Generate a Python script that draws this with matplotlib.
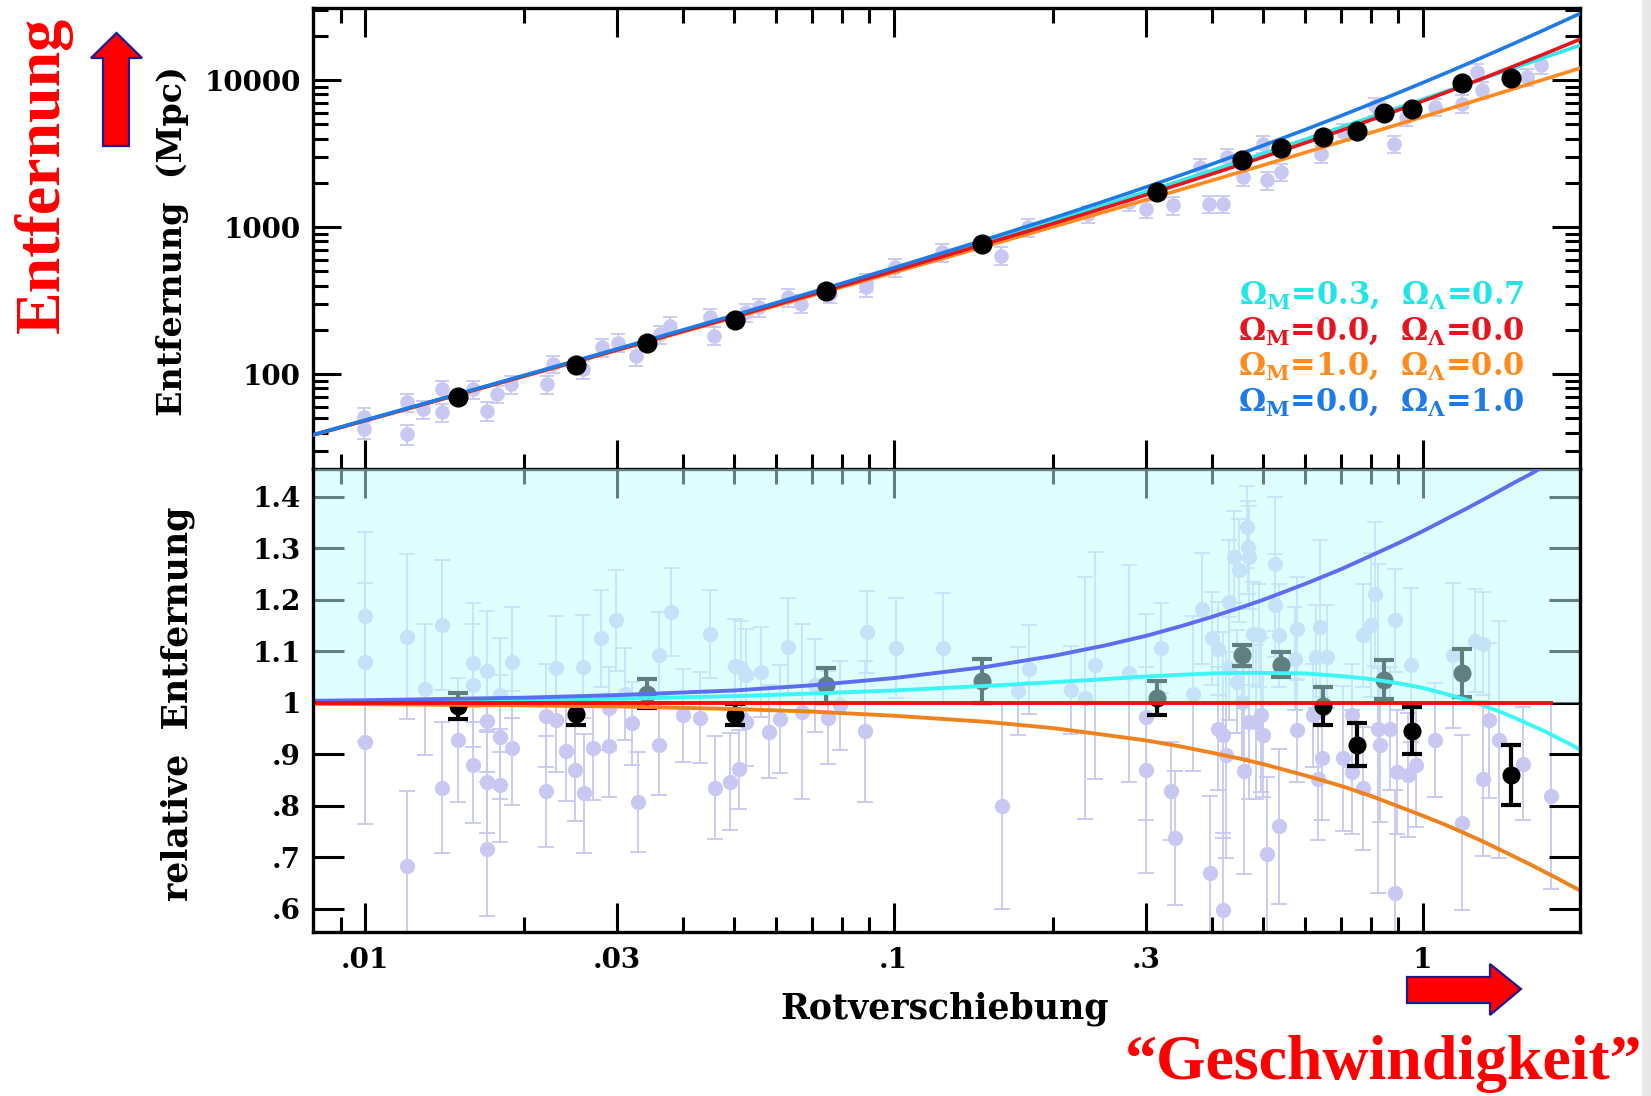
# Hubble diagram of type Ia supernovae: distance and relative distance vs. redshift

import matplotlib
matplotlib.use("Agg")
import matplotlib.pyplot as plt
import matplotlib.patches as mpatches
from matplotlib.ticker import FixedLocator, FixedFormatter, NullFormatter

FIG_W, FIG_H, DPI = 1651, 1096, 100

LAVENDER = "#c8c8f2"
TEXT_RED = "#ff0000"
ARROW_EDGE = "#1c1c8e"

# ── Model curves ──────────────────────────────────────────────────────────────

MODEL_Z = [0.008, 0.01, 0.02, 0.03, 0.05, 0.07, 0.1, 0.15, 0.2, 0.25, 0.3,
           0.35, 0.4, 0.45, 0.5, 0.6, 0.7, 0.8, 0.9, 1.0, 1.1, 1.2, 1.3,
           1.4, 1.5, 1.6, 1.7, 1.8, 1.9, 2.0]

# distance in Mpc
DIST_LCDM = [38.6, 48.4, 97.4, 147.4, 249, 354, 516, 800, 1098, 1412, 1740,
             2082, 2435, 2799, 3174, 3957, 4772, 5623, 6502, 7409, 8331,
             9281, 10245, 11230, 12222, 13235, 14266, 15300, 16361, 17414]
DIST_EMPTY = [38.6, 48.2, 97.0, 146.2, 246, 348, 504, 774, 1056, 1350, 1656,
              1974, 2304, 2646, 3000, 3744, 4536, 5376, 6264, 7200, 8184,
              9216, 10296, 11424, 12600, 13824, 15096, 16416, 17784, 19200]
DIST_EDS = [38.5, 48.1, 96.5, 145.1, 243, 342, 491, 745, 1004, 1267, 1534,
            1806, 2081, 2360, 2642, 3217, 3803, 4400, 5007, 5623, 6248, 6881,
            7521, 8168, 8821, 9480, 10146, 10817, 11492, 12173]
DIST_DS = [38.7, 48.5, 97.9, 148.3, 252, 360, 528, 828, 1152, 1500, 1872,
           2268, 2688, 3132, 3600, 4608, 5712, 6912, 8208, 9600, 11088,
           12672, 14352, 16128, 18000, 19968, 22032, 24192, 26448, 28800]

# distance relative to the empty universe
REL_LCDM = [1.002, 1.003, 1.005, 1.008, 1.013, 1.018, 1.024, 1.033, 1.040,
            1.046, 1.051, 1.0545, 1.057, 1.058, 1.058, 1.057, 1.052, 1.046,
            1.038, 1.029, 1.018, 1.007, 0.995, 0.983, 0.970, 0.957, 0.945,
            0.932, 0.920, 0.907]
REL_EDS = [0.998, 0.9975, 0.995, 0.993, 0.988, 0.983, 0.975, 0.963, 0.951,
           0.938, 0.927, 0.915, 0.903, 0.892, 0.881, 0.859, 0.839, 0.819,
           0.799, 0.781, 0.764, 0.747, 0.731, 0.715, 0.700, 0.686, 0.672,
           0.659, 0.646, 0.634]
REL_DS = [1.004, 1.005, 1.010, 1.015, 1.024, 1.034, 1.048, 1.070, 1.091,
          1.111, 1.130, 1.149, 1.167, 1.184, 1.200, 1.231, 1.259, 1.286,
          1.310, 1.333, 1.355, 1.375, 1.394, 1.412, 1.429, 1.444, 1.460,
          1.474, 1.487, 1.500]
REL_EMPTY_Z = [0.008, 1.75]
REL_EMPTY = [1.0, 1.0]

LEGEND_LINES = [
    (r"$\Omega_{M}$=0.3,  $\Omega_{\Lambda}$=0.7", "#22e6e6"),
    (r"$\Omega_{M}$=0.0,  $\Omega_{\Lambda}$=0.0", "#e6141e"),
    (r"$\Omega_{M}$=1.0,  $\Omega_{\Lambda}$=0.0", "#ff8a1e"),
    (r"$\Omega_{M}$=0.0,  $\Omega_{\Lambda}$=1.0", "#1e7ae6"),
]

# ── Binned supernovae ─────────────────────────────────────────────────────────

BIN_Z = [0.0150, 0.0251, 0.0341, 0.0502, 0.0745, 0.147, 0.315, 0.455, 0.539,
         0.647, 0.753, 0.847, 0.955, 1.19, 1.47]
BIN_DIST = [69.5, 116, 164, 233, 370, 767, 1726, 2885, 3467, 4085, 4520,
            5985, 6400, 9510, 10330]
BIN_REL = [0.994, 0.978, 1.018, 0.977, 1.034, 1.042, 1.010, 1.092, 1.074,
           0.994, 0.919, 1.045, 0.946, 1.058, 0.860]
BIN_ERR = [0.025, 0.021, 0.029, 0.021, 0.034, 0.043, 0.033, 0.020, 0.024,
           0.037, 0.041, 0.038, 0.046, 0.047, 0.058]

# ── Individual supernovae, upper panel ───────────────────────────────────────

UP_Z = [0.00996, 0.00996, 0.0120, 0.0120, 0.0129, 0.0140, 0.0140, 0.0160,
        0.0170, 0.0178, 0.0189, 0.0221, 0.0227, 0.0258, 0.0281, 0.0301,
        0.0326, 0.0362, 0.0377, 0.0449, 0.0457, 0.0525, 0.0556, 0.0631,
        0.0668, 0.0759, 0.0887, 0.0887, 0.1007, 0.1234,
        0.1598, 0.1795, 0.233, 0.278, 0.3006, 0.338, 0.395, 0.419, 0.380,
        0.4266, 0.457, 0.499, 0.508, 0.539, 0.643, 0.708, 0.812, 0.829,
        0.882, 0.930, 1.055, 1.186, 1.269, 1.294, 1.573, 1.676]
UP_DIST = [50.7, 42.2, 64.1, 39.1, 57.8, 54.9, 79.1, 79.0, 56.2, 73.1, 85.5,
           85.5, 117, 108, 152, 164, 133, 187, 214, 244, 183, 264, 285, 334,
           301, 352, 422, 390, 533, 676,
           641, 1000, 1233, 1479, 1333, 1406, 1445, 1445, 2565, 3000, 2193,
           3700, 2080, 2371, 3162, 4443, 6650, 6240, 3700, 5623, 6577, 6934,
           11400, 8546, 10540, 12650]
UP_ERR = [8, 6, 9, 6, 8, 8, 11, 11, 8, 10, 12, 12, 16, 15, 21, 23, 19, 26,
          30, 34, 26, 37, 40, 47, 42, 49, 59, 55, 75, 95,
          90, 140, 170, 200, 180, 190, 195, 195, 340, 400, 300, 500, 290,
          320, 430, 600, 900, 840, 500, 760, 900, 950, 1500, 1150, 1420, 1700]

# ── Individual supernovae, lower panel ───────────────────────────────────────

LOW_Z = [0.0100, 0.0100, 0.0100, 0.0120, 0.0120, 0.0130, 0.0140, 0.0140,
         0.0150, 0.0160, 0.0160, 0.0160, 0.0170, 0.0170, 0.0170, 0.0170,
         0.0180, 0.0180, 0.0180, 0.0190, 0.0190, 0.0220, 0.0220, 0.0230,
         0.0230, 0.0240, 0.0250, 0.0259, 0.0260, 0.0270, 0.0280, 0.0289,
         0.0289, 0.0299, 0.0310, 0.0320, 0.0329,
         0.0360, 0.0360, 0.0379, 0.0400, 0.0430, 0.0450, 0.0459, 0.0490,
         0.0501, 0.0510, 0.0515, 0.0525, 0.0525, 0.0560, 0.0580, 0.0610,
         0.0630, 0.0670, 0.0711, 0.0750, 0.0791, 0.0882, 0.0890, 0.1010,
         0.1240,
         0.160, 0.172, 0.180, 0.216, 0.230, 0.240, 0.278, 0.300, 0.300,
         0.320, 0.334, 0.340, 0.368, 0.382, 0.396, 0.400, 0.410, 0.410,
         0.420, 0.420, 0.425, 0.430, 0.430, 0.440, 0.445, 0.450, 0.455,
         0.460, 0.465, 0.467, 0.470, 0.470, 0.478, 0.485, 0.490, 0.495,
         0.500, 0.507, 0.526, 0.526, 0.535, 0.535,
         0.575, 0.578, 0.578, 0.620, 0.630, 0.635, 0.639, 0.645, 0.660,
         0.708, 0.734, 0.734, 0.772, 0.772, 0.800, 0.812, 0.824, 0.830,
         0.867, 0.886, 0.886, 0.895, 0.939, 0.952, 0.973, 1.054, 1.142,
         1.190, 1.255, 1.300, 1.300, 1.336, 1.395, 1.550, 1.752]
LOW_REL = [1.168, 1.079, 0.923, 1.128, 0.684, 1.026, 1.151, 0.835, 0.928,
           1.078, 1.034, 0.879, 1.061, 0.965, 0.847, 0.716, 0.934, 0.840,
           1.015, 1.079, 0.912, 0.975, 0.828, 1.068, 0.966, 0.907, 0.870,
           1.070, 0.824, 0.912, 1.125, 0.989, 0.917, 1.160, 1.017, 0.960,
           0.808,
           1.092, 0.918, 1.176, 0.976, 0.971, 1.134, 0.835, 0.847, 1.071,
           0.871, 1.068, 1.054, 0.962, 1.060, 0.944, 0.968, 1.109, 0.983,
           1.034, 0.971, 0.995, 0.945, 1.138, 1.107, 1.107,
           0.800, 1.023, 1.065, 1.025, 1.010, 1.073, 1.057, 0.973, 0.870,
           1.107, 0.828, 0.737, 1.018, 1.183, 0.669, 1.125, 1.105, 0.950,
           0.937, 0.598, 0.899, 1.196, 1.067, 1.283, 1.041, 1.257, 1.002,
           0.868, 1.341, 1.302, 1.283, 0.963, 1.134, 0.963, 1.131, 0.976,
           0.937, 0.706, 1.270, 1.189, 0.760, 1.131,
           1.086, 1.144, 0.947, 0.976, 1.089, 0.853, 1.147, 0.892, 1.089,
           0.892, 0.976, 0.866, 1.131, 0.834, 1.151, 1.212, 0.950, 0.918,
           0.950, 1.160, 0.630, 0.866, 0.860, 1.073, 0.879, 0.928, 1.092,
           0.767, 1.121, 1.115, 0.853, 0.966, 0.928, 0.882, 0.819]
LOW_ERR = [0.163, 0.153, 0.159, 0.160, 0.145, 0.128, 0.127, 0.127, 0.120,
           0.116, 0.120, 0.113, 0.118, 0.100, 0.100, 0.130, 0.120, 0.110,
           0.110, 0.108, 0.110, 0.100, 0.107, 0.100, 0.100, 0.097, 0.100,
           0.100, 0.116, 0.100, 0.095, 0.080, 0.100, 0.098, 0.090, 0.080,
           0.097,
           0.085, 0.097, 0.085, 0.090, 0.088, 0.086, 0.100, 0.094, 0.092,
           0.077, 0.090, 0.090, 0.085, 0.087, 0.090, 0.105, 0.094, 0.170,
           0.090, 0.090, 0.086, 0.137, 0.080, 0.097, 0.107,
           0.200, 0.085, 0.086, 0.085, 0.235, 0.220, 0.210, 0.200, 0.200,
           0.087, 0.095, 0.130, 0.150, 0.108, 0.150, 0.090, 0.090, 0.120,
           0.200, 0.150, 0.200, 0.120, 0.100, 0.090, 0.100, 0.100, 0.110,
           0.200, 0.080, 0.090, 0.100, 0.150, 0.100, 0.150, 0.100, 0.150,
           0.120, 0.150, 0.130, 0.100, 0.150, 0.100,
           0.100, 0.100, 0.100, 0.100, 0.100, 0.120, 0.170, 0.120, 0.100,
           0.140, 0.100, 0.120, 0.100, 0.120, 0.140, 0.140, 0.320, 0.150,
           0.120, 0.100, 0.200, 0.120, 0.120, 0.150, 0.120, 0.110, 0.140,
           0.170, 0.100, 0.100, 0.150, 0.150, 0.230, 0.110, 0.180]

# ── Axis ticks ────────────────────────────────────────────────────────────────

X_MAJOR = [0.01, 0.03, 0.1, 0.3, 1]
X_LABELS = [".01", ".03", ".1", ".3", "1"]
X_MINOR = [0.009, 0.02, 0.04, 0.05, 0.06, 0.07, 0.08, 0.09,
           0.2, 0.4, 0.5, 0.6, 0.7, 0.8, 0.9]
D_MAJOR = [100, 1000, 10000]
D_LABELS = ["100", "1000", "10000"]
D_MINOR = [30, 40, 50, 60, 70, 80, 90, 200, 300, 400, 500, 600, 700, 800,
           900, 2000, 3000, 4000, 5000, 6000, 7000, 8000, 9000, 20000, 30000]
R_MAJOR = [0.6, 0.7, 0.8, 0.9, 1.0, 1.1, 1.2, 1.3, 1.4]
R_LABELS = [".6", ".7", ".8", ".9", "1", "1.1", "1.2", "1.3", "1.4"]

XLIM = (0.00798, 1.985)


plt.rcParams["font.family"] = "DejaVu Serif"
plt.rcParams["font.weight"] = "bold"
plt.rcParams["mathtext.fontset"] = "custom"
plt.rcParams["mathtext.rm"] = "DejaVu Serif:bold"
plt.rcParams["mathtext.it"] = "DejaVu Serif:bold"
plt.rcParams["mathtext.bf"] = "DejaVu Serif:bold"


def _style_ticks(ax, y_major_len):
    ax.tick_params(which="both", direction="in", top=True, right=True,
                   width=2.2, labelsize=20, colors="black")
    ax.tick_params(axis="x", which="major", length=21, pad=11)
    ax.tick_params(axis="x", which="minor", length=11)
    ax.tick_params(axis="y", which="major", length=y_major_len, pad=9)
    ax.tick_params(axis="y", which="minor", length=11)
    for spine in ax.spines.values():
        spine.set_linewidth(2.4)


def _arrow(fig, pts_px):
    verts = [(x / DPI, (FIG_H - y) / DPI) for x, y in pts_px]
    poly = mpatches.Polygon(verts, closed=True, facecolor=TEXT_RED,
                            edgecolor=ARROW_EDGE, linewidth=1.6,
                            transform=fig.dpi_scale_trans)
    fig.add_artist(poly)


# ── Upper panel ───────────────────────────────────────────────────────────────

def draw_top(ax):
    ax.set_xscale("log")
    ax.set_yscale("log")
    ax.errorbar(UP_Z, UP_DIST, yerr=UP_ERR, fmt="o", ms=10.5, color=LAVENDER,
                mec="none", ecolor=LAVENDER, elinewidth=1.3, capsize=5,
                capthick=1.3, zorder=1.5)
    ax.plot(MODEL_Z, DIST_LCDM, color="#30e8e8", lw=2.6, zorder=3)
    ax.plot(MODEL_Z, DIST_EDS, color="#ff8a1e", lw=2.6, zorder=3.1)
    ax.plot(MODEL_Z, DIST_EMPTY, color="#e6141e", lw=2.6, zorder=3.2)
    ax.plot(MODEL_Z, DIST_DS, color="#1e7ae6", lw=2.6, zorder=3.3)
    ax.plot(BIN_Z, BIN_DIST, "o", ms=13.5, color="black", zorder=4)

    ax.set_xlim(*XLIM)
    ax.set_ylim(22.6, 31000)
    ax.xaxis.set_major_locator(FixedLocator(X_MAJOR))
    ax.xaxis.set_minor_locator(FixedLocator(X_MINOR))
    ax.xaxis.set_major_formatter(NullFormatter())
    ax.xaxis.set_minor_formatter(NullFormatter())
    ax.yaxis.set_major_locator(FixedLocator(D_MAJOR))
    ax.yaxis.set_major_formatter(FixedFormatter(D_LABELS))
    ax.yaxis.set_minor_locator(FixedLocator(D_MINOR))
    ax.yaxis.set_minor_formatter(NullFormatter())
    _style_ticks(ax, 20)
    ax.spines["bottom"].set_visible(False)

    y0 = 0.3774
    for i, (label, colour) in enumerate(LEGEND_LINES):
        ax.text(0.956, y0 - i * 0.0777, label, transform=ax.transAxes,
                ha="right", va="center", color=colour, fontsize=22,
                fontweight="bold", zorder=6)


# ── Lower panel ───────────────────────────────────────────────────────────────

def draw_bottom(ax):
    ax.set_xscale("log")
    ax.errorbar(LOW_Z, LOW_REL, yerr=LOW_ERR, fmt="o", ms=11, color=LAVENDER,
                mec="none", ecolor=LAVENDER, elinewidth=1.3, capsize=6,
                capthick=1.3, zorder=1.5)
    ax.errorbar(BIN_Z, BIN_REL, yerr=BIN_ERR, fmt="o", ms=12, color="black",
                ecolor="black", elinewidth=3, capsize=7, capthick=3, zorder=2)

    # translucent tint above the empty-universe line
    ax.axhspan(1.0, 1.6, color="#c1ffff", alpha=0.5, lw=0, zorder=2.6)

    ax.plot(MODEL_Z, REL_EDS, color="#f0821e", lw=2.8, zorder=4)
    ax.plot(MODEL_Z, REL_LCDM, color="#3cf5f5", lw=2.8, zorder=4.1)
    ax.plot(MODEL_Z, REL_DS, color="#5b6ef0", lw=2.8, zorder=4.2)
    ax.plot(REL_EMPTY_Z, REL_EMPTY, color="#ff0a0a", lw=2.8, zorder=4.3)

    ax.set_xlim(*XLIM)
    ax.set_ylim(0.555, 1.454)
    ax.xaxis.set_major_locator(FixedLocator(X_MAJOR))
    ax.xaxis.set_major_formatter(FixedFormatter(X_LABELS))
    ax.xaxis.set_minor_locator(FixedLocator(X_MINOR))
    ax.xaxis.set_minor_formatter(NullFormatter())
    ax.yaxis.set_major_locator(FixedLocator(R_MAJOR))
    ax.yaxis.set_major_formatter(FixedFormatter(R_LABELS))
    _style_ticks(ax, 22)
    for side in ("left", "right", "bottom"):
        ax.spines[side].set_zorder(5)


fig = plt.figure(figsize=(FIG_W / DPI, FIG_H / DPI), dpi=DPI, facecolor="white")
ax_top = fig.add_axes([0.1896, 0.5721, 0.7674, 0.4206])
ax_bot = fig.add_axes([0.1896, 0.1496, 0.7674, 0.4225])

draw_top(ax_top)
draw_bottom(ax_bot)

fig.text(0.1042, 0.7801, "Entfernung  (Mpc)", rotation=90, ha="center",
         va="center", fontsize=24, fontweight="bold")
fig.text(0.1078, 0.3577, "relative  Entfernung", rotation=90, ha="center",
         va="center", fontsize=25, fontweight="bold")
fig.text(0.5724, 0.0794, "Rotverschiebung", ha="center", va="center",
         fontsize=25, fontweight="bold")

# red annotations
fig.text(0.0263, 0.8403, "Entfernung", rotation=90, ha="center", va="center",
         fontsize=46, fontweight="bold", family="Liberation Serif",
         color=TEXT_RED)
fig.text(0.8383, 0.0292, "\u201cGeschwindigkeit\u201d", ha="center",
         va="center", fontsize=46, fontweight="bold",
         family="Liberation Serif", color=TEXT_RED)

_arrow(fig, [(116.5, 33), (142, 58), (129, 58), (129, 146), (103, 146),
             (103, 58), (91, 58)])
_arrow(fig, [(1407, 977), (1490, 977), (1490, 964), (1521, 989),
             (1490, 1015), (1490, 1003), (1407, 1003)])

# thin grey strip at the right edge of the original image
fig.add_artist(mpatches.Rectangle((1642 / FIG_W, 0), 9 / FIG_W, 1,
                                  transform=fig.transFigure,
                                  facecolor="#e8e8e8", edgecolor="none"))

fig.savefig("out.png", dpi=DPI, facecolor="white")
